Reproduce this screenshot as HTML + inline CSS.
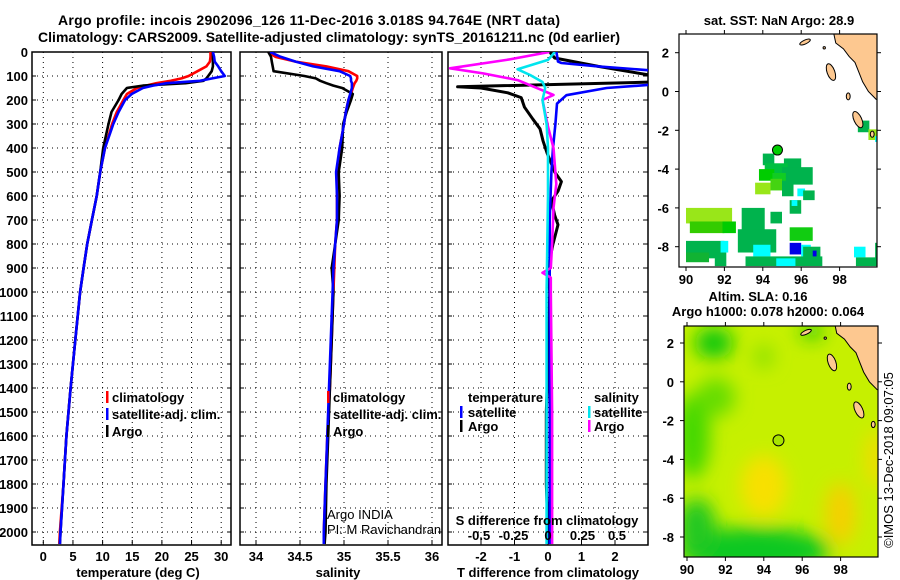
<!DOCTYPE html>
<html><head><meta charset="utf-8"><style>
html,body{margin:0;padding:0;background:#fff;width:900px;height:580px;overflow:hidden}
svg{display:block}
text{font-family:"Liberation Sans",sans-serif;font-weight:bold;font-size:13px;fill:#000}
.n{font-weight:normal}
</style></head><body>
<svg id="c" width="900" height="580" viewBox="0 0 900 580">
<defs>
<clipPath id="cp1"><rect x="32" y="52" width="199" height="493"/></clipPath>
<clipPath id="cp2"><rect x="240" y="52" width="202" height="493"/></clipPath>
<clipPath id="cp3"><rect x="448" y="52" width="200" height="493"/></clipPath>
<clipPath id="cpm1"><rect x="679" y="34" width="198" height="233"/></clipPath>
<clipPath id="cpm2"><rect x="684" y="326" width="194" height="231"/></clipPath>
<filter id="blur" x="-50%" y="-50%" width="200%" height="200%"><feGaussianBlur stdDeviation="9"/></filter>
</defs>
<text x="309" y="25" text-anchor="middle" style="font-size:14px" textLength="502">Argo profile: incois 2902096_126 11-Dec-2016 3.018S 94.764E (NRT data)</text>
<text x="329" y="42" text-anchor="middle" style="font-size:14px" textLength="582">Climatology: CARS2009. Satellite-adjusted climatology: synTS_20161211.nc (0d earlier)</text>
<text x="779" y="25" text-anchor="middle">sat. SST: NaN Argo: 28.9</text>
<text x="758" y="301" text-anchor="middle">Altim. SLA: 0.16</text>
<text x="768" y="316" text-anchor="middle">Argo h1000: 0.078 h2000: 0.064</text>
<text transform="translate(893,460) rotate(-90)" text-anchor="middle" class="n" style="font-size:13px">©IMOS 13-Dec-2018 09:07:05</text>
<g id="g"></g>
</svg>
<script>
// ---------- profile data ----------
const depths = [0,20,40,60,80,100,110,120,130,140,150,175,200,250,300,400,500,600,700,800,900,1000,1200,1400,1600,1800,2000,2050];
const argoT = [28.6,28.6,28.6,28.6,28.4,27.8,27.5,27.0,24,16.8,14.1,13.2,12.7,11.5,11.0,10.1,9.6,9.0,8.2,7.4,6.8,6.2,5.4,4.6,3.9,3.4,2.9,2.8];
const climT = [28.2,28.2,28.1,27.5,26.0,24.5,23.3,21.5,19.1,17.3,15.8,14.1,13.5,12.4,11.6,10.4,9.6,9.0,8.2,7.4,6.8,6.2,5.4,4.6,3.9,3.4,2.8,2.7];
const satT = [28.6,28.8,28.9,29.5,30.0,30.6,28.5,26.4,20.8,18.5,16.8,14.9,13.8,12.7,11.8,10.4,9.6,9.0,8.2,7.4,6.8,6.2,5.4,4.6,3.9,3.4,2.9,2.8];
const argoS = [34.14,34.17,34.18,34.19,34.2,34.55,34.68,34.73,34.8,34.88,34.98,35.1,35.08,35.03,34.99,34.98,34.94,34.95,34.94,34.9,34.86,34.88,34.86,34.84,34.82,34.8,34.79,34.78];
const climS = [34.14,34.22,34.45,34.8,35.05,35.15,35.15,35.14,35.12,35.11,35.1,35.08,35.05,35.02,35.0,34.95,34.92,34.92,34.92,34.9,34.89,34.88,34.86,34.84,34.81,34.79,34.77,34.77];
const satS = [34.16,34.28,34.45,34.65,34.95,35.07,35.08,35.08,35.09,35.09,35.09,35.07,35.05,35.02,35.0,34.95,34.91,34.92,34.92,34.9,34.88,34.87,34.85,34.83,34.81,34.79,34.77,34.77];
const dTdepth = [0,25,60,100,125,145,150,170,190,230,280,320,370,420,500,540,580,620,680,720,800,900,1000,1200,1500,1800,2000,2050];
const argoTdiff = [0.05,0.2,1.5,3.2,3.2,-2.7,-2.0,-1.2,-0.8,-0.7,-0.45,-0.24,-0.15,-0.03,0.2,0.4,0.3,0.1,0.2,0.3,0.15,0,0.05,0.02,-0.05,-0.05,0,0];
const satTdepth = [0,40,46,60,78,110,137,150,180,215,300,400,500,700,1000,1500,2000,2050];
const satTdiff = [0.25,0.3,0.4,1.5,3.2,3.5,3.0,1.75,0.55,0.27,0.22,0.15,0.1,0.05,0.05,0.05,0.05,0.05];
const argoSdepth = [0,33,68,89,117,155,179,200,311,400,550,650,800,900,920,940,1000,1500,2000,2050];
const argoSdiff = [0.01,-0.3,-0.71,-0.47,-0.22,-0.06,0.04,-0.04,0,0.04,0.06,0.04,0.03,0.02,-0.04,0.02,0.02,0.03,0.03,0.03];
const satSdepth = [0,33,72,96,125,150,200,300,400,600,1000,1500,2000,2050];
const satSdiff = [0.05,0,-0.22,-0.13,-0.04,-0.02,-0.04,-0.01,0,0,-0.01,-0.01,-0.01,-0.01];
const depthTicks = [0,100,200,300,400,500,600,700,800,900,1000,1100,1200,1300,1400,1500,1600,1700,1800,1900,2000];
const tempTicks = [0,5,10,15,20,25,30];
const salTicks = [34,34.5,35,35.5,36];
const salTickLabels = ["34","34.5","35","35.5","36"];
const tdTicks = [-2,-1,0,1,2];
const sdTicks = [-0.5,-0.25,0,0.25,0.5];
const sdTickLabels = ["-0.5","-0.25","0","0.25","0.5"];
// ---------- SST map cells [lon0, latTop, w, h, colour] ----------
const sstCells = [
[98.95,-1.5,0.6,0.6,"#00b34d"],[99.5,-1.95,0.5,0.55,"#99e619"],[99.85,-2.3,0.15,0.3,"#00ffff"],
[94.0,-3.2,0.6,0.6,"#00b34d"],[95.1,-3.45,0.9,0.6,"#00b34d"],[94.1,-3.7,1.2,0.7,"#00c040"],
[93.8,-4.0,0.8,0.6,"#00cc00"],[95.0,-3.9,1.6,0.9,"#00b34d"],[94.5,-4.2,0.7,0.8,"#11cc22"],
[93.6,-4.7,0.8,0.6,"#99e619"],[94.4,-4.5,0.6,0.6,"#44d411"],[95.0,-4.6,0.6,0.8,"#00b34d"],
[95.8,-5.0,0.4,0.4,"#00ffff"],[96.1,-5.1,0.6,0.5,"#00b34d"],[95.4,-5.6,0.6,0.7,"#00b34d"],[95.5,-5.6,0.3,0.3,"#00ffff"],
[90.0,-6.0,2.4,0.8,"#99e619"],[90.2,-6.7,1.8,0.6,"#33cc00"],[90.0,-7.7,2.0,0.9,"#00b34d"],[90.0,-8.3,1.2,0.5,"#11b333"],
[91.5,-8.3,0.6,0.7,"#00b34d"],[91.9,-6.7,0.7,0.6,"#00cc00"],[92.9,-6.0,1.2,1.2,"#00b34d"],[92.7,-7.1,2.0,1.2,"#00b34d"],
[91.8,-7.7,0.4,0.6,"#00ffff"],[93.5,-7.9,0.9,0.6,"#00ffff"],[94.4,-6.2,0.6,0.6,"#00b34d"],[95.4,-7.0,1.2,0.7,"#11cc11"],
[95.4,-7.8,0.6,0.6,"#0000e6"],[96.0,-7.9,0.5,0.6,"#00ffff"],[93.1,-8.5,4.0,0.5,"#00b34d"],[94.7,-8.6,1.0,0.4,"#00ffff"],
[96.1,-8.0,0.9,0.6,"#00b34d"],[96.6,-8.2,0.2,0.3,"#0000e6"],[98.75,-8.0,0.6,0.55,"#00ffff"],[98.85,-8.55,1.15,0.45,"#00b34d"],[99.85,-7.8,0.15,0.8,"#00b34d"]
];
// ---------- land (lon,lat) ----------
const sumatra = [[97.65,3.2],[97.8,2.5],[98.2,2.2],[98.5,1.8],[98.8,1.5],[99.0,1.0],[99.2,0.5],[99.5,0.0],[99.9,-0.4],[100.2,-0.5],[100.2,3.2]];
const islands = [[96.2,2.55,0.3,0.1,-25],[97.55,1.0,0.2,0.45,-20],[98.45,-0.25,0.1,0.18,0],[98.95,-1.45,0.2,0.45,-25],[99.7,-2.2,0.1,0.16,0],[97.2,2.25,0.06,0.06,0]];
const argoLon = 94.764, argoLat = -3.018;
// ---------- SLA field blobs (lon, lat, rx, ry, colour) ----------
const slaBlobs = [[90.3,-2.8,0.9,2.2,"#44d800"],[91.4,2.0,1.0,0.8,"#11c811"],[93.5,-8.7,4.0,1.2,"#11c822"],[90.5,-7.5,1.0,1.5,"#22c822"],
[94.0,-5.4,1.2,1.6,"#f8e000"],[98.0,-6.8,0.8,1.6,"#f5d000"],[99.8,-4.0,0.5,1.5,"#f2dc00"],[94.0,1.3,0.5,0.6,"#88e000"],[91.5,-0.8,1.0,1.0,"#66dd00"],[96.5,2.6,0.6,0.4,"#22c811"]];

const NS="http://www.w3.org/2000/svg";
const G=document.getElementById('g');
function mk(tag,attrs,parent){const e=document.createElementNS(NS,tag);for(const k in attrs)e.setAttribute(k,attrs[k]);(parent||G).appendChild(e);return e;}
const yD=d=>52+d*0.24;
const xT=t=>43.3+t*5.93;
const xS=s=>256+(s-34)*88;
const xTD=v=>548+v*33.5;
const xSD=v=>548+v*138;

function panel(x0,x1,name){
  const r=mk('rect',{x:x0,y:52,width:x1-x0,height:493,fill:'none',stroke:'#000','stroke-width':1.5});
  
  
  depthTicks.forEach(d=>{
    const l=mk('line',{x1:x0,x2:x1,y1:yD(d),y2:yD(d),stroke:'#000','stroke-dasharray':'1 4','stroke-width':1});
    
    
    mk('line',{x1:x0,x2:x0+4,y1:yD(d),y2:yD(d),stroke:'#000'});
    mk('line',{x1:x1-4,x2:x1,y1:yD(d),y2:yD(d),stroke:'#000'});
  });
}
function vgrid(vals,fx,name,labels){
  vals.forEach((v,i)=>{
    const x=fx(v);
    const l=mk('line',{x1:x,x2:x,y1:52,y2:545,stroke:'#000','stroke-dasharray':'1 4'});
    
    
    mk('line',{x1:x,x2:x,y1:545,y2:540,stroke:'#000'});
    const t=mk('text',{x:x,y:561,'text-anchor':'middle'});
    t.textContent=labels?labels[i]:String(v);
    
    
  });
}
function line(xs,ds,fx,color,clip,name,w){
  const pts=xs.map((v,i)=>fx(v).toFixed(1)+','+yD(ds[i]).toFixed(1)).join(' ');
  const p=mk('polyline',{points:pts,fill:'none',stroke:color,'stroke-width':w||2.6,'clip-path':'url(#'+clip+')','stroke-linejoin':'round'});
  
  
}
function txt(x,y,s,name,cls,anchor){
  const t=mk('text',{x:x,y:y});
  if(cls)t.setAttribute('class',cls);
  if(anchor)t.setAttribute('text-anchor',anchor);
  t.textContent=s;
  
  
  return t;
}
function legendMark(x,y,color){mk('rect',{x:x,y:y-11,width:2.5,height:12,fill:color});}

panel(32,231,'temperature-panel');
panel(240,442,'salinity-panel');
panel(448,648,'difference-panel');
depthTicks.forEach(d=>{txt(28,yD(d)+5,String(d),'depth-tick-label',null,'end');});
vgrid(tempTicks,xT,'temperature');
vgrid(salTicks,xS,'salinity',salTickLabels);
vgrid(tdTicks,xTD,'t-difference');
txt(138,577,'temperature (deg C)','x-axis-title-temperature',null,'middle');
txt(338,577,'salinity','x-axis-title-salinity',null,'middle');
txt(548,577,'T difference from climatology','x-axis-title-t-difference',null,'middle');

line(climT,depths,xT,'#ff0000','cp1','climatology-temperature-line');
line(argoT,depths,xT,'#000000','cp1','argo-temperature-line');
line(satT,depths,xT,'#0000ff','cp1','satellite-temperature-line');
line(climS,depths,xS,'#ff0000','cp2','climatology-salinity-line');
line(argoS,depths,xS,'#000000','cp2','argo-salinity-line');
line(satS,depths,xS,'#0000ff','cp2','satellite-salinity-line');
line(argoTdiff,dTdepth,xTD,'#000000','cp3','argo-t-difference-line',3);
line(satTdiff,satTdepth,xTD,'#0000ff','cp3','satellite-t-difference-line');
line(argoSdiff,argoSdepth,xSD,'#ff00ff','cp3','argo-s-difference-line');
line(satSdiff,satSdepth,xSD,'#00e5ee','cp3','satellite-s-difference-line');

[[ '#ff0000','climatology'],['#0000ff','satellite-adj. clim.'],['#000000','Argo']].forEach((e,i)=>{
  legendMark(106,402+i*17,e[0]);txt(112,402+i*17,e[1],'temperature-legend-entry');
  legendMark(327,402+i*17,e[0]);txt(333,402+i*17,e[1],'salinity-legend-entry');
});
txt(468,402,'temperature','difference-legend-temperature-header');
legendMark(460,417,'#0000ff');txt(468,417,'satellite','difference-legend-t-satellite');
legendMark(460,431,'#000000');txt(468,431,'Argo','difference-legend-t-argo');
txt(594,402,'salinity','difference-legend-salinity-header');
legendMark(588,417,'#00e5ee');txt(594,417,'satellite','difference-legend-s-satellite');
legendMark(588,431,'#ff00ff');txt(594,431,'Argo','difference-legend-s-argo');
txt(547,525,'S difference from climatology','s-difference-axis-title',null,'middle');
sdTicks.forEach((v,i)=>{txt(xSD(v),540,sdTickLabels[i],'s-difference-tick-label',null,'middle');});
txt(327,519,'Argo INDIA','data-provider-label','n');
txt(327,534,'PI: M Ravichandran','pi-label','n');

function mapAxes(x0,y0,x1,y1,fx,fy,name,clip,drawContent){
  const gm=mk('g',{'clip-path':'url(#'+clip+')'});
  
  
  drawContent(gm);
  mk('polygon',{points:sumatra.map(p=>fx(p[0])+','+fy(p[1])).join(' '),fill:'#fdc890',stroke:'#000','stroke-width':1},gm);
  islands.forEach(s=>{mk('ellipse',{cx:0,cy:0,rx:s[2]*19.2,ry:s[3]*19.4,fill:'#fdc890',stroke:'#000','stroke-width':1,transform:'translate('+fx(s[0])+','+fy(s[1])+') rotate('+s[4]+')'},gm);});
  const r=mk('rect',{x:x0,y:y0,width:x1-x0,height:y1-y0,fill:'none',stroke:'#000','stroke-width':1.2});
  
  
  [90,92,94,96,98].forEach(l=>{mk('line',{x1:fx(l),x2:fx(l),y1:y1,y2:y1+4,stroke:'#000'});mk('line',{x1:fx(l),x2:fx(l),y1:y0,y2:y0-4,stroke:'#000'});txt(fx(l),y1+17,String(l),name+'-lon-label',null,'middle');});
  [2,0,-2,-4,-6,-8].forEach(l=>{mk('line',{x1:x0-4,x2:x0,y1:fy(l),y2:fy(l),stroke:'#000'});mk('line',{x1:x1,x2:x1+4,y1:fy(l),y2:fy(l),stroke:'#000'});txt(x0-10,fy(l)+5,String(l),name+'-lat-label',null,'end');});
}
const fx1=l=>686+(l-90)*19.2, fy1=l=>52.7-(l-2)*19.4;
mapAxes(679,34,877,267,fx1,fy1,'sst-map','cpm1',gm=>{
  mk('rect',{x:679,y:34,width:198,height:233,fill:'#fff'},gm);
  sstCells.forEach(c=>{
    const r=mk('rect',{x:fx1(c[0]),y:fy1(c[1]),width:c[2]*19.2,height:c[3]*19.4,fill:c[4]},gm);
    
    
  });
});
const m1=mk('circle',{cx:fx1(argoLon),cy:fy1(argoLat),r:5,fill:'#00cc00',stroke:'#000','stroke-width':1});


const fx2=l=>687+(l-90)*19.2, fy2=l=>343-(l-2)*19.4;
mapAxes(684,326,878,557,fx2,fy2,'sla-map','cpm2',gm=>{
  mk('rect',{x:684,y:326,width:194,height:231,fill:'#c6f000'},gm);
  const gb=mk('g',{filter:'url(#blur)'},gm);
  slaBlobs.forEach(b=>{
    const e=mk('ellipse',{cx:fx2(b[0]),cy:fy2(b[1]),rx:b[2]*19.2,ry:b[3]*19.4,fill:b[4]},gb);
    
    
  });
});
const m2=mk('circle',{cx:fx2(argoLon),cy:fy2(argoLat),r:5.5,fill:'#a8e400',stroke:'#000','stroke-width':1});


</script>
</body></html>
